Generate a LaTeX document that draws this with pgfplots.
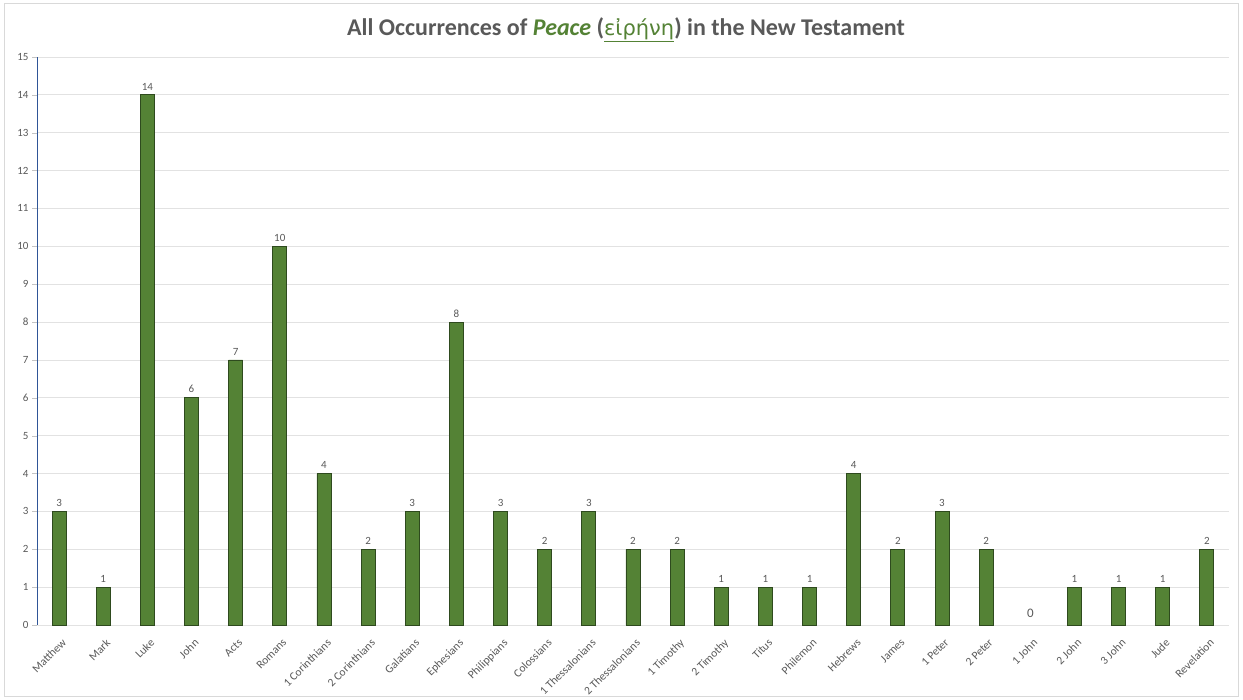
\documentclass[border=0pt]{standalone}
\usepackage{pgfplots}
\pgfplotsset{compat=1.18}
\usepackage{fontspec}
\setmainfont{Carlito}
\newfontfamily\greekfont{DejaVu Sans}
\definecolor{bargreen}{HTML}{548235}
\definecolor{baredge}{HTML}{2E4A1E}
\definecolor{txtgray}{HTML}{595959}
\definecolor{gridgray}{HTML}{E2E2E2}
\definecolor{axisblue}{HTML}{2F5597}
\definecolor{framegray}{HTML}{D9D9D9}
\begin{document}
\begin{tikzpicture}[x=1pt,y=1pt]
\path[use as bounding box] (0,0) rectangle (1243,700);
\draw[framegray] (4.5,3.5) rectangle (1238.5,696.5);
\node[text=txtgray,font=\fontsize{24}{28}\selectfont\bfseries] at (626,670)
  {All Occurrences of \textcolor{bargreen}{\itshape Peace} (\textcolor{bargreen}{\greekfont\mdseries\fontsize{21}{25}\selectfont\underline{εἰρήνη}}) in the New Testament};
\begin{axis}[
  at={(37pt,75pt)}, anchor=south west,
  scale only axis, width=1192pt, height=568pt,
  ymin=0, ymax=15, ytick={0,1,...,15},
  xmin=-0.5, xmax=26.5,
  xtick={0,1,...,26},
  xticklabels={Matthew,Mark,Luke,John,Acts,Romans,1 Corinthians,2 Corinthians,Galatians,Ephesians,Philippians,Colossians,1 Thessalonians,2 Thessalonians,1 Timothy,2 Timothy,Titus,Philemon,Hebrews,James,1 Peter,2 Peter,1 John,2 John,3 John,Jude,Revelation},
  xticklabel style={rotate=45, anchor=north east, inner sep=1pt, yshift=-6pt, xshift=-3pt,
    font=\fontsize{11.5}{13.5}\selectfont},
  xtick style={draw=none},
  ytick pos=left,
  tick align=outside,
  major tick length=5pt,
  ytick style={gridgray!70!gray},
  ymajorgrids,
  grid style={gridgray, line width=0.8pt},
  axis x line*=bottom, axis y line*=left,
  x axis line style={gridgray,-,line width=0.8pt},
  y axis line style={axisblue,-,line width=0.8pt},
  ticklabel style={text=txtgray},
  yticklabel style={font=\fontsize{11}{13}\selectfont},
  /pgf/number format/assume math mode=true,
  ybar, bar width=14pt, bar shift=0pt,
  nodes near coords,
  every node near coord/.append style={font=\fontsize{11}{13}\selectfont, text=txtgray, yshift=1pt},
  clip=false,
]
\addplot[fill=bargreen, draw=baredge, line width=0.8pt] coordinates {
  (0,3) (1,1) (2,14) (3,6) (4,7) (5,10) (6,4) (7,2) (8,3) (9,8)
  (10,3) (11,2) (12,3) (13,2) (14,2) (15,1) (16,1) (17,1) (18,4) (19,2)
  (20,3) (21,2) (23,1) (24,1) (25,1) (26,2)
};
% 1 John: no bar, only its value
\addplot[fill=none, draw=none,
  every node near coord/.append style={font=\fontsize{13}{15}\selectfont, yshift=3pt}]
  coordinates {(22,0)};
\end{axis}
\end{tikzpicture}
\end{document}
